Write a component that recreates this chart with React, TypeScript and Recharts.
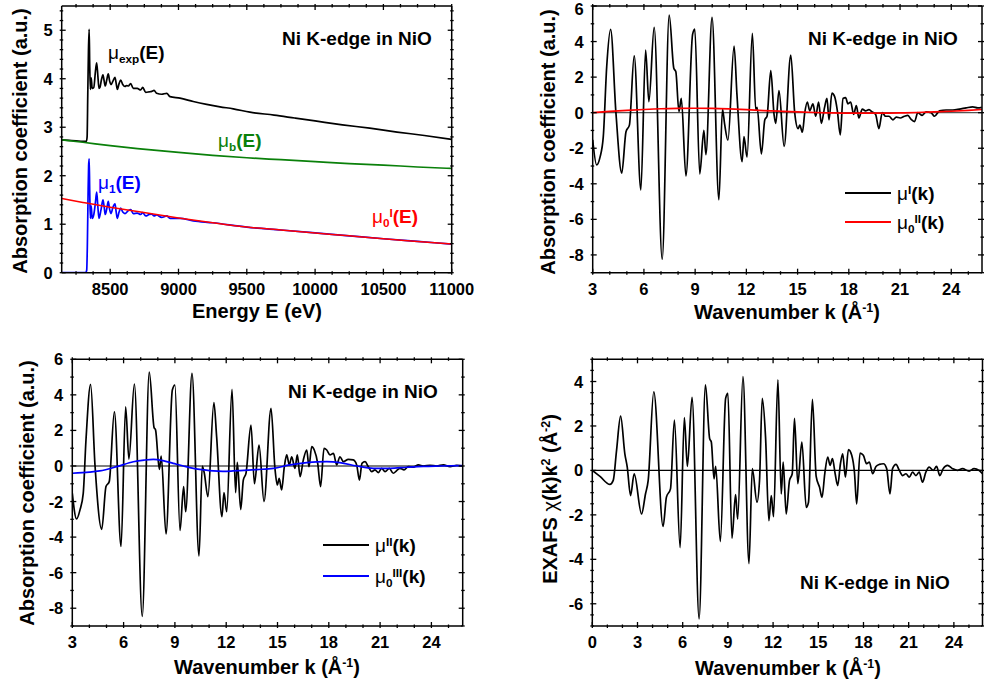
import React from 'react';
import { LineChart, Line, XAxis, YAxis, ReferenceLine } from 'recharts';

const FONT = '"Liberation Sans", Arial, Helvetica, sans-serif';

// ---------- panel 1 : energy space ----------
const eExp = [8146, 8200, 8250, 8300, 8326, 8331, 8336, 8341, 8346, 8350, 8355, 8361, 8368, 8380, 8392, 8401, 8410, 8418, 8425, 8436, 8447, 8456, 8464, 8475, 8486, 8496, 8506, 8520, 8535, 8544, 8552, 8565, 8577, 8592, 8608, 8620, 8633, 8650, 8669, 8698, 8723, 8738, 8760, 8785, 8804, 8821, 8840, 8877, 8914, 8938, 9011, 9108, 9206, 9304, 9401, 9523, 9700, 9850, 10000, 10200, 10400, 10600, 10800, 11000];
const muExp = [2.74, 2.73, 2.72, 2.71, 2.71, 2.8, 3.7, 4.6, 5.02, 4.3, 3.78, 4.02, 3.8, 3.82, 4.15, 4.33, 4.05, 3.8, 3.82, 3.98, 4.08, 3.95, 3.85, 3.98, 4.1, 3.95, 3.88, 3.95, 4.03, 3.9, 3.78, 3.9, 3.97, 3.88, 3.84, 3.86, 3.85, 3.9, 3.8, 3.8, 3.77, 3.82, 3.72, 3.73, 3.74, 3.76, 3.7, 3.68, 3.7, 3.63, 3.6, 3.53, 3.47, 3.42, 3.38, 3.31, 3.25, 3.19, 3.13, 3.05, 2.98, 2.9, 2.83, 2.75];

const eBkg = [8146, 8300, 8500, 8700, 9000, 9250, 9500, 9750, 10000, 10250, 10500, 10750, 11000];
const muBkg = [2.74, 2.69, 2.62, 2.56, 2.48, 2.42, 2.37, 2.33, 2.29, 2.25, 2.22, 2.18, 2.15];
const muZeroI = [1.53, 1.45, 1.35, 1.26, 1.13, 1.03, 0.94, 0.88, 0.82, 0.76, 0.7, 0.645, 0.59];

const eOne = [8146, 8250, 8320, 8328, 8333, 8338, 8342, 8346, 8350, 8355, 8361, 8368, 8380, 8392, 8401, 8410, 8418, 8433, 8447, 8456, 8464, 8475, 8486, 8496, 8506, 8520, 8535, 8544, 8552, 8565, 8577, 8592, 8608, 8633, 8650, 8669, 8698, 8723, 8738, 8760, 8785, 8804, 8821, 8840, 8877, 8914, 8938, 9011, 9108, 9250, 9500, 9750, 10000, 10250, 10500, 10750, 11000];
const muOne = [0, 0, 0, 0.05, 0.6, 1.6, 2.2, 2.35, 1.7, 1.12, 1.38, 1.12, 1.2, 1.45, 1.66, 1.35, 1.12, 1.3, 1.5, 1.35, 1.2, 1.32, 1.47, 1.3, 1.22, 1.35, 1.42, 1.25, 1.12, 1.25, 1.33, 1.25, 1.22, 1.28, 1.3, 1.22, 1.23, 1.2, 1.24, 1.17, 1.2, 1.21, 1.17, 1.19, 1.14, 1.17, 1.12, 1.12, 1.07, 1.03, 0.94, 0.88, 0.82, 0.76, 0.7, 0.645, 0.59];

// ---------- panel 2 : mu^I(k) ----------
const kMuI = [3.0, 3.23, 3.43, 3.62, 3.82, 4.05, 4.36, 4.7, 4.95, 5.15, 5.43, 5.82, 6.1, 6.29, 6.6, 7.07, 7.48, 7.75, 7.87, 8.05, 8.19, 8.46, 8.85, 8.98, 9.27, 9.51, 9.63, 9.99, 10.39, 10.6, 10.72, 10.92, 11.28, 11.45, 11.75, 11.86, 12.04, 12.35, 12.55, 12.63, 12.88, 13.08, 13.21, 13.43, 13.62, 13.72, 13.91, 14.21, 14.6, 14.83, 15.03, 15.13, 15.28, 15.42, 15.57, 15.71, 15.9, 16.06, 16.23, 16.39, 16.58, 16.72, 16.84, 17.01, 17.17, 17.33, 17.5, 17.66, 17.81, 17.95, 18.11, 18.28, 18.44, 18.59, 18.79, 18.98, 19.18, 19.37, 19.57, 19.76, 19.96, 20.15, 20.35, 20.58, 20.78, 21.01, 21.26, 21.46, 21.65, 21.85, 22.04, 22.3, 22.53, 22.82, 23.02, 23.31, 23.7, 24.09, 24.48, 24.87, 25.26, 25.55, 25.79];
const muI = [-1.53, -2.94, -2.5, -1.35, 2.58, 4.68, 0.0, -3.4, -1.07, -0.7, 3.19, -4.34, 3.52, 0.62, 4.8, -8.24, 5.49, 2.5, 2.3, 0.06, 0.8, -3.56, 4.4, 4.7, -3.44, -1.0, -2.36, 5.36, -4.9, 0.2, -0.6, -1.55, 3.75, 1.0, -2.75, -1.35, -2.5, 4.46, 0.15, 0.3, -2.32, -0.4, -0.2, 2.36, -0.1, -0.6, 1.24, -1.9, 3.24, 0.0, -0.9, -0.7, -1.1, 0.0, 0.6, 0.1, 0.5, -0.2, 0.6, -0.6, 0.3, 0.8, -0.4, 1.1, 0.9, 0.1, -1.25, 0.8, 0.85, 0.5, 0.6, -0.1, 0.4, -0.3, 0.2, 0.1, 0.17, 0.04, -0.1, -0.9, 0.0, -0.2, -0.2, -0.4, -0.25, -0.3, -0.2, -0.15, -0.38, -0.5, 0.0, -0.15, 0.05, 0.0, -0.2, 0.1, 0.15, 0.15, 0.2, 0.27, 0.33, 0.27, 0.3];
const kMuZeroII = [3, 4, 5, 6, 7, 8, 9, 10, 11, 12, 13, 14, 15, 16, 17, 18, 19, 20, 21, 22, 23, 24, 25, 25.8];
const muZeroII = [0, 0.07, 0.13, 0.18, 0.22, 0.24, 0.25, 0.24, 0.21, 0.17, 0.12, 0.08, 0.04, 0.01, -0.01, -0.02, -0.02, -0.02, -0.01, 0.01, 0.04, 0.08, 0.13, 0.18];

// ---------- panel 3 : mu^II(k) ----------
const kMuII = [3.0, 3.25, 3.45, 3.64, 3.8, 4.07, 4.33, 4.72, 4.97, 5.16, 5.46, 5.85, 6.12, 6.31, 6.63, 7.09, 7.5, 7.78, 7.87, 8.09, 8.2, 8.48, 8.85, 9.0, 9.3, 9.51, 9.63, 10.0, 10.41, 10.6, 10.72, 10.93, 11.28, 11.44, 11.75, 11.87, 12.03, 12.34, 12.55, 12.65, 12.85, 13.0, 13.16, 13.45, 13.65, 13.92, 14.21, 14.62, 14.85, 14.99, 15.1, 15.24, 15.4, 15.54, 15.69, 15.83, 16.02, 16.16, 16.32, 16.51, 16.71, 16.84, 17.0, 17.15, 17.35, 17.52, 17.72, 17.88, 18.07, 18.27, 18.46, 18.65, 18.85, 19.14, 19.43, 19.63, 19.79, 19.94, 20.12, 20.31, 20.51, 20.7, 20.9, 21.09, 21.29, 21.54, 21.77, 21.97, 22.16, 22.4, 22.65, 22.94, 23.24, 23.53, 23.92, 24.31, 24.7, 25.09, 25.48, 25.83];
const muII = [-1.54, -2.98, -2.47, -1.54, 1.46, 4.59, 0.0, -3.56, -1.16, -0.88, 3.05, -4.53, 3.33, 0.39, 4.61, -8.46, 5.28, 2.17, 2.02, -0.19, 0.56, -3.82, 4.27, 4.55, -3.63, -1.16, -2.57, 5.21, -5.06, 0.0, -0.41, -1.72, 3.56, 1.65, -2.85, -1.5, -2.57, 4.31, -1.5, 0.2, -2.45, -0.8, -0.4, 2.3, -1.0, 1.18, -2.0, 3.24, -0.13, -1.07, -0.7, -1.35, -0.04, 0.62, 0.06, 0.52, -0.13, 0.62, -0.6, 0.34, 0.9, -0.04, 1.09, 0.9, 0.15, -1.16, 0.99, 0.9, 0.62, 0.71, 0.06, 0.52, 0.24, 0.37, 0.34, 0.06, -0.79, 0.15, 0.24, -0.04, -0.32, -0.22, -0.37, -0.13, -0.32, -0.13, -0.41, -0.26, -0.13, -0.22, -0.04, -0.07, 0.06, 0.0, 0.04, 0.0, 0.06, -0.04, 0.04, 0.0];
const kMuZeroIII = [3, 4, 4.6, 5.6, 6.57, 7.2, 7.74, 8.3, 8.9, 9.5, 10.08, 10.7, 11.25, 11.8, 12.4, 12.8, 13.8, 14.76, 15.73, 16.71, 17.3, 17.88, 18.65, 19.63, 20.6, 21.58, 22.55, 23.53, 24.5, 25.83];
const muZeroIII = [-0.41, -0.35, -0.28, -0.04, 0.24, 0.33, 0.37, 0.3, 0.15, 0.0, -0.13, -0.22, -0.28, -0.3, -0.28, -0.26, -0.2, -0.13, 0.06, 0.19, 0.23, 0.24, 0.19, 0.0, -0.13, -0.13, -0.07, -0.02, 0.0, 0.02];

// ---------- panel 4 : chi(k)k^2 ----------
const kChi = [0, 0.51, 1.17, 1.39, 1.61, 1.88, 2.16, 2.32, 2.54, 2.78, 3.27, 3.53, 3.71, 4.08, 4.7, 4.92, 5.19, 5.45, 5.83, 6.11, 6.31, 6.62, 7.09, 7.51, 7.79, 7.9, 8.08, 8.19, 8.5, 8.85, 9.0, 9.27, 9.51, 9.65, 10.0, 10.4, 10.62, 10.93, 11.1, 11.28, 11.5, 11.72, 11.88, 12.03, 12.32, 12.54, 12.67, 12.87, 13.09, 13.27, 13.42, 13.64, 13.91, 14.2, 14.35, 14.61, 14.86, 15.08, 15.25, 15.43, 15.63, 15.78, 15.94, 16.12, 16.29, 16.47, 16.62, 16.8, 17.0, 17.22, 17.4, 17.55, 17.77, 17.99, 18.21, 18.39, 18.61, 18.83, 19.05, 19.32, 19.54, 19.76, 19.93, 20.16, 20.38, 20.6, 20.82, 21.04, 21.26, 21.48, 21.7, 21.92, 22.14, 22.36, 22.63, 22.85, 23.07, 23.29, 23.58, 23.91, 24.24, 24.57, 25.01, 25.34, 25.67, 25.9];
const chiK2 = [0, -0.27, -0.63, -0.45, 0.9, 2.44, 0.75, 0.15, -1.13, -0.15, -1.96, -1.06, -0.45, 3.54, -2.52, -1.2, -0.83, 2.26, -3.47, 2.38, 0.18, 3.29, -6.68, 3.85, 1.43, 1.28, -0.38, 0.18, -3.2, 3.24, 3.47, -3.05, -1.09, -2.19, 4.22, -4.19, 0.08, -1.43, -0.45, 3.24, 1.5, -2.26, -1.13, -2.08, 4.07, -1.06, 0.38, -1.96, -0.45, -0.15, 2.34, -0.6, 1.28, -1.66, -1.43, 3.2, -0.27, -0.75, -1.21, -0.15, 0.6, 0.23, 0.53, -0.15, -0.68, 0.3, 0.75, -0.3, 0.94, 0.68, -0.08, -1.51, 0.78, 0.68, 0.3, 0.38, -0.15, 0.18, 0.27, 0.3, 0.08, -1.06, 0.08, 0.27, 0.0, -0.23, -0.15, -0.3, -0.08, -0.23, -0.08, -0.53, -0.08, 0.15, 0.0, 0.18, -0.23, 0.08, 0.23, 0.08, 0.0, 0.08, -0.03, 0.08, 0.0, -0.15];

// ---------- tick labels ----------
const energyLabels = [8500, 9000, 9500, 10000, 10500, 11000];
const muLabels = [0, 1, 2, 3, 4, 5];
const kLabels3 = [3, 6, 9, 12, 15, 18, 21, 24];
const kLabels0 = [0, 3, 6, 9, 12, 15, 18, 21, 24];
const muKLabels = [-8, -6, -4, -2, 0, 2, 4, 6];
const chiLabels = [-6, -4, -2, 0, 2, 4];

const zip = (xs: number[], ys: number[]) => xs.map((x, i) => ({ x, y: ys[i] }));
const steps = (from: number, to: number, step: number) => {
  const out: number[] = [];
  for (let i = 0; from + i * step <= to + 1e-9; i++) out.push(+(from + i * step).toFixed(4));
  return out;
};
const isMajor = (v: number, majors: number[]) => majors.some((m) => Math.abs(m - v) < 1e-6);

type Side = 'bottom' | 'top' | 'left' | 'right';

const makeTick = (side: Side, majors: number[], withLabel: boolean) => (props: any) => {
  const { x, y, payload } = props;
  const v = payload.value;
  const major = isMajor(v, majors);
  const len = major ? 6 : 3.5;
  let x2 = x;
  let y2 = y;
  if (side === 'bottom') y2 = y - len;
  if (side === 'top') y2 = y + len;
  if (side === 'left') x2 = x + len;
  if (side === 'right') x2 = x - len;
  const txt = { fontFamily: FONT, fontWeight: 'bold', fontSize: 16.5, fill: '#000' } as const;
  return (
    <g>
      <line x1={x} y1={y} x2={x2} y2={y2} stroke="#000" strokeWidth={1.3} />
      {withLabel && major && side === 'bottom' && (
        <text x={x} y={y + 20} textAnchor="middle" {...txt}>{v}</text>
      )}
      {withLabel && major && side === 'left' && (
        // keep the topmost label inside the page
        <text x={x - 7} y={Math.max(y + 6, 15)} textAnchor="end" {...txt}>{v}</text>
      )}
    </g>
  );
};

interface Series { data: { x: number; y: number }[]; color: string; width?: number }
interface PanelProps {
  left: number; top: number; width: number; height: number;
  // plot-area edges inside the chart box
  plot: { top: number; right: number; bottom: number; left: number };
  xDomain: [number, number]; yDomain: [number, number];
  xTicks: number[]; xMajor: number[]; yTicks: number[]; yMajor: number[];
  series: Series[];
  zeroLine?: string;
}

const frame = { stroke: '#000', strokeWidth: 1.5 };
const AX = 1; // axes need a non-zero size to be drawn

const Panel: React.FC<PanelProps> = (p) => (
  <div style={{ position: 'absolute', left: p.left, top: p.top }}>
    <LineChart width={p.width} height={p.height}
      margin={{ top: p.plot.top - AX, left: p.plot.left - AX, right: p.plot.right - AX, bottom: p.plot.bottom - AX }}>
      <XAxis xAxisId="b" type="number" dataKey="x" domain={p.xDomain} allowDataOverflow ticks={p.xTicks} interval={0}
        height={AX} tickSize={0} tickLine={false} axisLine={frame} tick={makeTick('bottom', p.xMajor, true)} />
      <XAxis xAxisId="t" orientation="top" type="number" dataKey="x" domain={p.xDomain} allowDataOverflow ticks={p.xTicks} interval={0}
        height={AX} tickSize={0} tickLine={false} axisLine={frame} tick={makeTick('top', p.xMajor, false)} />
      <YAxis yAxisId="l" type="number" domain={p.yDomain} allowDataOverflow ticks={p.yTicks} interval={0}
        width={AX} tickSize={0} tickLine={false} axisLine={frame} tick={makeTick('left', p.yMajor, true)} />
      <YAxis yAxisId="r" orientation="right" type="number" domain={p.yDomain} allowDataOverflow ticks={p.yTicks} interval={0}
        width={AX} tickSize={0} tickLine={false} axisLine={frame} tick={makeTick('right', p.yMajor, false)} />
      {p.zeroLine && <ReferenceLine xAxisId="b" yAxisId="l" y={0} stroke={p.zeroLine} strokeWidth={1.2} />}
      {p.series.map((s, i) => (
        <Line key={i} xAxisId="b" yAxisId="l" data={s.data} dataKey="y" type="monotone" stroke={s.color}
          strokeWidth={s.width ?? 1.7} dot={false} activeDot={false} isAnimationActive={false} />
      ))}
    </LineChart>
  </div>
);

const Sub: React.FC<{ children: React.ReactNode }> = ({ children }) => (
  <span style={{ fontSize: '0.62em', position: 'relative', top: '0.38em' }}>{children}</span>
);
const Sup: React.FC<{ children: React.ReactNode }> = ({ children }) => (
  <span style={{ fontSize: '0.62em', position: 'relative', top: '-0.55em' }}>{children}</span>
);
const Mu = () => <span style={{ fontWeight: 'normal' }}>μ</span>;

const Note: React.FC<{ x: number; y: number; color?: string; size?: number; center?: boolean; rotate?: boolean; children: React.ReactNode }> = ({ x, y, color = '#000', size = 19, center, rotate, children }) => (
  <div style={{
    position: 'absolute', left: x, top: y, color, fontSize: size, fontWeight: 'bold', fontFamily: FONT,
    lineHeight: 1, whiteSpace: 'nowrap',
    transform: rotate ? 'translate(-50%,-50%) rotate(-90deg)' : center ? 'translate(-50%,-50%)' : 'translateY(-50%)',
  }}>{children}</div>
);

const LegendRow: React.FC<{ x: number; y: number; color: string; children: React.ReactNode }> = ({ x, y, color, children }) => (
  <>
    <div style={{ position: 'absolute', left: x, top: y - 1, width: 46, height: 0, borderTop: `2px solid ${color}` }} />
    <Note x={x + 52} y={y}>{children}</Note>
  </>
);

const KTitle = () => (
  <>Wavenumber k (Å<Sup>-1</Sup>)</>
);

export default function App() {
  const kTicks = steps(3, 25, 1);
  const kTicks0 = steps(0, 25, 1);
  return (
    <div style={{ position: 'absolute', left: 0, top: 0, width: 984, height: 684, background: '#fff', overflow: 'hidden' }}>
      <Panel left={0} top={0} width={492} height={342}
        plot={{ top: 6, left: 61.7, right: 40.3, bottom: 69.3 }}
        xDomain={[8145, 11000]} yDomain={[0, 5.5]}
        xTicks={steps(8250, 11000, 125)} xMajor={energyLabels}
        yTicks={steps(0, 5.4, 0.2)} yMajor={muLabels}
        series={[
          { data: zip(eExp, muExp), color: '#000' },
          { data: zip(eBkg, muBkg), color: '#0a800a' },
          { data: zip(eOne, muOne), color: '#0000ff' },
          { data: zip(eBkg, muZeroI), color: '#ff0000', width: 1.5 },
        ]} />
      <Panel left={492} top={0} width={492} height={342}
        plot={{ top: 6, left: 100.7, right: 2, bottom: 69.3 }}
        xDomain={[3, 25.8]} yDomain={[-9, 6]}
        xTicks={kTicks} xMajor={kLabels3}
        yTicks={steps(-9, 6, 1)} yMajor={muKLabels}
        zeroLine="#555"
        series={[
          { data: zip(kMuI, muI), color: '#000' },
          { data: zip(kMuZeroII, muZeroII), color: '#ff0000' },
        ]} />
      <Panel left={0} top={342} width={492} height={342}
        plot={{ top: 17.3, left: 72.3, right: 29.3, bottom: 58 }}
        xDomain={[3, 25.83]} yDomain={[-9, 6]}
        xTicks={kTicks} xMajor={kLabels3}
        yTicks={steps(-9, 6, 1)} yMajor={muKLabels}
        zeroLine="#000"
        series={[
          { data: zip(kMuII, muII), color: '#000' },
          { data: zip(kMuZeroIII, muZeroIII), color: '#0000ff' },
        ]} />
      <Panel left={492} top={342} width={492} height={342}
        plot={{ top: 17.3, left: 100.3, right: 1.5, bottom: 58 }}
        xDomain={[0, 25.9]} yDomain={[-7, 5]}
        xTicks={kTicks0} xMajor={kLabels0}
        yTicks={steps(-7, 5, 0.5)} yMajor={chiLabels}
        zeroLine="#000"
        series={[{ data: zip(kChi, chiK2), color: '#000' }]} />

      {/* axis titles */}
      <Note x={257} y={311} center size={20}>Energy E (eV)</Note>
      <Note x={20} y={141} rotate size={20}>Absorption coefficient (a.u.)</Note>
      <Note x={787} y={312} center size={20}><KTitle /></Note>
      <Note x={548} y={142} rotate size={20}>Absorption coefficient (a.u.)</Note>
      <Note x={267} y={667} center size={20}><KTitle /></Note>
      <Note x={27} y={493} rotate size={20}>Absorption coefficient (a.u.)</Note>
      <Note x={788} y={668} center size={20}><KTitle /></Note>
      <Note x={550} y={499} rotate size={20}>EXAFS <span style={{ fontWeight: 'normal' }}>χ</span>(k)k<Sup>2</Sup> (Å<Sup>-2</Sup>)</Note>

      {/* panel notes */}
      <Note x={282} y={37.5}>Ni K-edge in NiO</Note>
      <Note x={108} y={52}><Mu /><Sub>exp</Sub>(E)</Note>
      <Note x={218} y={140} color="#0a800a"><Mu /><Sub>b</Sub>(E)</Note>
      <Note x={98} y={182} color="#0000ff"><Mu /><Sub>1</Sub>(E)</Note>
      <Note x={372} y={216} color="#ff0000"><Mu /><Sub>0</Sub><Sup>I</Sup>(E)</Note>

      <Note x={808} y={37.5}>Ni K-edge in NiO</Note>
      <LegendRow x={845} y={193} color="#000"><Mu /><Sup>I</Sup>(k)</LegendRow>
      <LegendRow x={845} y={222} color="#ff0000"><Mu /><Sub>0</Sub><Sup>II</Sup>(k)</LegendRow>

      <Note x={288} y={391}>Ni K-edge in NiO</Note>
      <LegendRow x={323} y={545} color="#000"><Mu /><Sup>II</Sup>(k)</LegendRow>
      <LegendRow x={323} y={576} color="#0000ff"><Mu /><Sub>0</Sub><Sup>III</Sup>(k)</LegendRow>

      <Note x={800} y={582}>Ni K-edge in NiO</Note>
    </div>
  );
}
